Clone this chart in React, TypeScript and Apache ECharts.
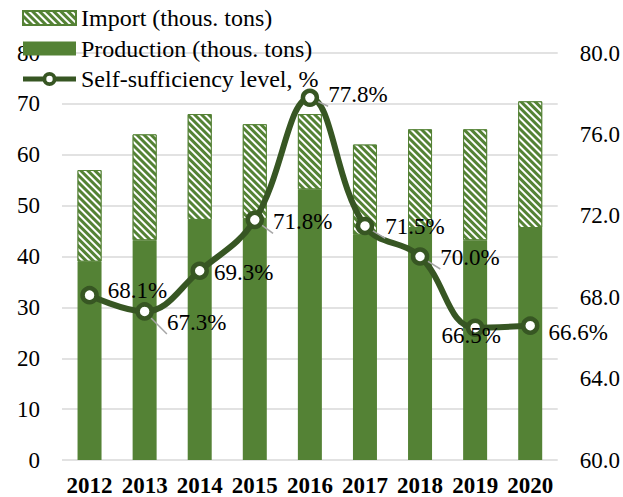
import React, { useEffect, useRef } from "react";
import * as echarts from "echarts";

const years = ["2012", "2013", "2014", "2015", "2016", "2017", "2018", "2019", "2020"];
const production = [39, 43.2, 47.2, 47.4, 53.2, 44.3, 45.6, 43.2, 45.6];
const totals = [57, 64, 68, 66, 68, 62, 65, 65, 70.5];
const importVals = totals.map((t, i) => +(t - production[i]).toFixed(1));
const selfSufficiency = [68.1, 67.3, 69.3, 71.8, 77.8, 71.5, 70.0, 66.5, 66.6];
const leftTicks = { min: 0, max: 80, interval: 10 };
const rightTicks = { min: 60, max: 80, interval: 4 };

// label nudges and leader-line visibility (layout only)
const labelOffsets: [number, number][] = [
  [0, -5], [4, 11], [-4, 2], [0, 2], [0, -3], [2, 1], [2, 1], [-52, 8], [0, 7],
];
const showLeader = [false, true, false, true, true, true, true, false, false];

const FONT = "'Liberation Serif', 'Times New Roman', serif";
const BAR = "#548235";
const LINE = "#375623";

const lineIcon =
  "path://M0 4.5 L20.5 4.5 L20.5 9.5 L0 9.5 Z " +
  "M32.5 4.5 L53 4.5 L53 9.5 L32.5 9.5 Z " +
  "M19.5 7 A7 7 0 1 1 33.5 7 A7 7 0 1 1 19.5 7 Z " +
  "M23.3 7 A3.2 3.2 0 1 0 29.7 7 A3.2 3.2 0 1 0 23.3 7 Z";

export default function App() {
  const ref = useRef<HTMLDivElement>(null);
  useEffect(() => {
    if (!ref.current) return;
    const chart = echarts.init(ref.current, undefined, { renderer: "svg" });
    chart.setOption({
      animation: false,
      textStyle: { fontFamily: FONT, color: "#000" },
      legend: {
        orient: "vertical",
        left: 17,
        top: 1,
        itemWidth: 53,
        itemHeight: 14,
        itemGap: 6.5,
        textStyle: { fontFamily: FONT, fontSize: 24, color: "#000" },
        data: [
          { name: "Import (thous. tons)", icon: "rect" },
          { name: "Production (thous. tons)", icon: "rect" },
          {
            name: "Self-sufficiency level, %",
            icon: lineIcon,
            itemStyle: { color: LINE, borderWidth: 0 },
          },
        ],
      },
      grid: { left: 62, right: 59, top: 53, bottom: 37, containLabel: false },
      xAxis: {
        type: "category",
        data: years,
        axisLine: { show: false },
        axisTick: { show: false },
        axisLabel: { fontFamily: FONT, fontSize: 23, fontWeight: "bold", color: "#000", margin: 14, interval: 0 },
      },
      yAxis: [
        {
          type: "value",
          ...leftTicks,
          axisLine: { show: false },
          axisTick: { show: false },
          axisLabel: { fontFamily: FONT, fontSize: 23, color: "#000", margin: 22 },
          splitLine: { lineStyle: { color: "#d9d9d9", width: 1.5 } },
        },
        {
          type: "value",
          ...rightTicks,
          axisLine: { show: false },
          axisTick: { show: false },
          axisLabel: { fontFamily: FONT, fontSize: 23, color: "#000", margin: 22, formatter: (v: number) => v.toFixed(1) },
          splitLine: { show: false },
        },
      ],
      series: [
        {
          name: "Production (thous. tons)",
          type: "bar",
          stack: "total",
          barWidth: 24,
          data: production,
          itemStyle: { color: BAR },
        },
        {
          name: "Import (thous. tons)",
          type: "bar",
          stack: "total",
          barWidth: 24,
          data: importVals,
          itemStyle: {
            color: BAR,
            borderColor: BAR,
            borderWidth: 1,
            decal: {
              symbol: "rect",
              symbolSize: 1,
              color: "#ffffff",
              dashArrayX: [1, 0],
              dashArrayY: [2, 2.2],
              rotation: Math.PI / 4,
            },
          },
        },
        {
          name: "Self-sufficiency level, %",
          type: "line",
          yAxisIndex: 1,
          smooth: 0.4,
          symbol: "circle",
          symbolSize: 14,
          z: 5,
          lineStyle: { color: LINE, width: 6 },
          itemStyle: { color: "#ffffff", borderColor: LINE, borderWidth: 4.5 },
          data: selfSufficiency.map((v, i) => ({
            value: v,
            label: { offset: labelOffsets[i] },
            labelLine: { show: showLeader[i] },
          })),
          labelLine: { show: true, lineStyle: { color: "#a6a6a6", width: 1.5 } },
          label: {
            show: true,
            position: "right",
            distance: 9,
            fontFamily: FONT,
            fontSize: 23,
            color: "#000",
            formatter: (p: any) => (p.value as number).toFixed(1) + "%",
          },
        },
      ],
    });
    return () => chart.dispose();
  }, []);
  return <div ref={ref} style={{ position: "absolute", left: 0, top: 0, width: 623, height: 497 }} />;
}
